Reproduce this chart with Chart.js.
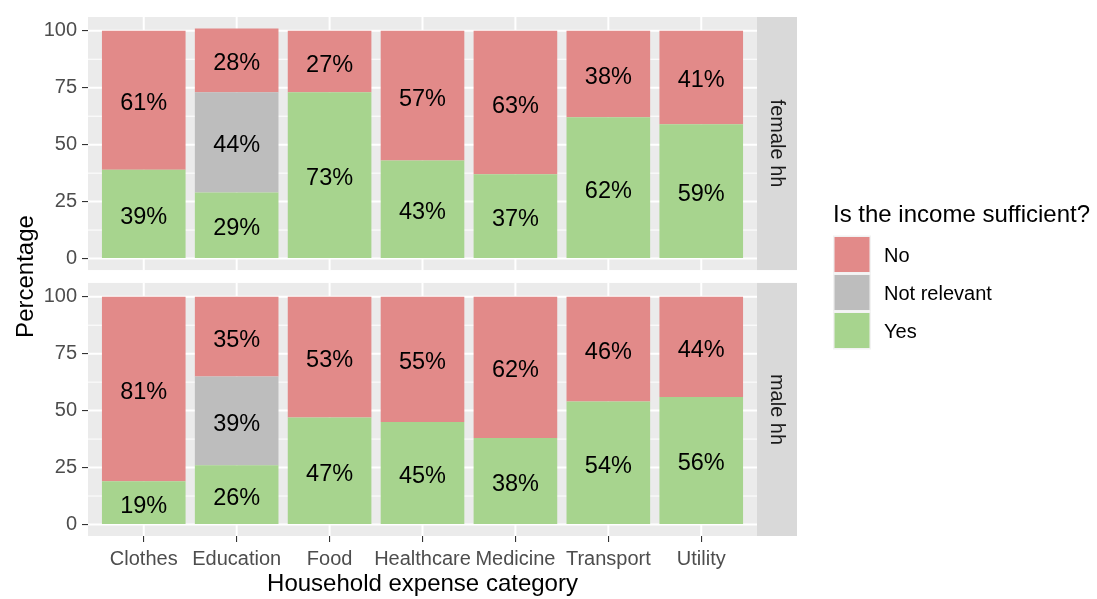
<!DOCTYPE html>
<html>
<head>
<meta charset="utf-8">
<script src="https://cdn.jsdelivr.net/npm/chart.js@4.4.1/dist/chart.umd.min.js"></script>
<style>
html,body{margin:0;padding:0;background:#fff;}
#wrap{position:relative;width:1097px;height:599px;}
</style>
</head>
<body>
<div id="wrap"><canvas id="c" width="1097" height="599"></canvas></div>
<script>
// ---- data ----
const categories = ['Clothes', 'Education', 'Food', 'Healthcare', 'Medicine', 'Transport', 'Utility'];
const groups = ['female hh', 'male hh'];
const responses = ['No', 'Not relevant', 'Yes'];
const femaleNo  = [61, 28, 27, 57, 63, 38, 41];
const femaleNR  = [null, 44, null, null, null, null, null];
const femaleYes = [39, 29, 73, 43, 37, 62, 59];
const maleNo    = [81, 35, 53, 55, 62, 46, 44];
const maleNR    = [null, 39, null, null, null, null, null];
const maleYes   = [19, 26, 47, 45, 38, 54, 56];
const yTicks = [0, 25, 50, 75, 100];
const yMinorTicks = [12.5, 37.5, 62.5, 87.5];
const yRange = [-5.05, 106.05];
const xRange = [-0.6, 6.6];
const legendTitle = 'Is the income sufficient?';
const xTitle = 'Household expense category';
const yTitle = 'Percentage';

// ---- styles ----
const colors = { 'No': '#E28A89', 'Not relevant': '#BDBDBD', 'Yes': '#A7D48E' };
const FONT = "'Liberation Sans', Arial, sans-serif";
const SMALL = 20;

const pts = arr => arr.map((v, i) => ({ x: i, y: v }));
const common = { borderWidth: 0, barPercentage: 0.9, categoryPercentage: 1.0 };

const datasets = [
  { label: 'Yes', data: pts(femaleYes), yAxisID: 'yf', backgroundColor: colors['Yes'], ...common },
  { label: 'Not relevant', data: pts(femaleNR), yAxisID: 'yf', backgroundColor: colors['Not relevant'], ...common },
  { label: 'No', data: pts(femaleNo), yAxisID: 'yf', backgroundColor: colors['No'], ...common },
  { label: 'Yes', data: pts(maleYes), yAxisID: 'ym', backgroundColor: colors['Yes'], ...common },
  { label: 'Not relevant', data: pts(maleNR), yAxisID: 'ym', backgroundColor: colors['Not relevant'], ...common },
  { label: 'No', data: pts(maleNo), yAxisID: 'ym', backgroundColor: colors['No'], ...common }
];

function line(ctx, x1, y1, x2, y2) {
  ctx.beginPath(); ctx.moveTo(x1, y1); ctx.lineTo(x2, y2); ctx.stroke();
}

const panelPlugin = {
  id: 'panels',
  beforeDraw(chart) {
    const ctx = chart.ctx, x = chart.scales.x;
    ['yf', 'ym'].forEach((id, k) => {
      const y = chart.scales[id];
      ctx.save();
      ctx.fillStyle = '#EBEBEB';
      ctx.fillRect(x.left, y.top, x.right - x.left, y.bottom - y.top);
      ctx.strokeStyle = '#FFFFFF';
      ctx.lineWidth = 1;
      yMinorTicks.forEach(v => { const p = y.getPixelForValue(v); line(ctx, x.left, p, x.right, p); });
      ctx.lineWidth = 2;
      yTicks.forEach(v => { const p = y.getPixelForValue(v); line(ctx, x.left, p, x.right, p); });
      categories.forEach((c, i) => { const p = x.getPixelForValue(i); line(ctx, p, y.top, p, y.bottom); });
      // strip
      ctx.fillStyle = '#D9D9D9';
      ctx.fillRect(x.right, y.top, 40, y.bottom - y.top);
      ctx.translate(x.right + 20, (y.top + y.bottom) / 2);
      ctx.rotate(Math.PI / 2);
      ctx.fillStyle = '#1A1A1A';
      ctx.font = SMALL + 'px ' + FONT;
      ctx.textAlign = 'center';
      ctx.textBaseline = 'middle';
      ctx.fillText(groups[k], 0, 0);
      ctx.restore();
    });
  },
  afterDatasetsDraw(chart) {
    const ctx = chart.ctx;
    ctx.save();
    ctx.fillStyle = '#000000';
    ctx.font = '23.5px ' + FONT;
    ctx.textAlign = 'center';
    ctx.textBaseline = 'middle';
    chart.data.datasets.forEach((ds, di) => {
      const meta = chart.getDatasetMeta(di);
      meta.data.forEach((el, i) => {
        const v = ds.data[i].y;
        if (v === null || v === undefined) return;
        const p = el.getProps(['x', 'y', 'base'], true);
        ctx.fillText(v + '%', p.x, (p.y + p.base) / 2 + 3.5);
      });
    });
    ctx.restore();
  },
  afterDraw(chart) {
    const ctx = chart.ctx;
    const yf = chart.scales.yf, ym = chart.scales.ym;
    ctx.save();
    // y title
    ctx.fillStyle = '#000000';
    ctx.font = '24px ' + FONT;
    ctx.textAlign = 'center';
    ctx.textBaseline = 'middle';
    ctx.translate(26, (Math.min(yf.top, ym.top) + Math.max(yf.bottom, ym.bottom)) / 2);
    ctx.rotate(-Math.PI / 2);
    ctx.fillText(yTitle, 0, 0);
    ctx.restore();
    // legend
    ctx.save();
    ctx.fillStyle = '#000000';
    ctx.font = '24px ' + FONT;
    ctx.textAlign = 'left';
    ctx.textBaseline = 'alphabetic';
    ctx.fillText(legendTitle, 833, 222);
    responses.forEach((r, i) => {
      const top = 235.5 + i * 38;
      ctx.fillStyle = '#F2F2F2';
      ctx.fillRect(833, top, 38, 38);
      ctx.fillStyle = colors[r];
      ctx.fillRect(834.5, top + 1.5, 35, 35);
      ctx.fillStyle = '#000000';
      ctx.font = SMALL + 'px ' + FONT;
      ctx.textBaseline = 'middle';
      ctx.fillText(r, 884, top + 20.5);
    });
    ctx.restore();
  }
};

const yAxis = (weight) => ({
  type: 'linear',
  position: 'left',
  stack: 'panels',
  stackWeight: weight,
  stacked: true,
  min: yRange[0],
  max: yRange[1],
  afterBuildTicks: s => { s.ticks = yTicks.map(v => ({ value: v })); },
  afterFit: s => { s.width = 88; },
  ticks: {
    callback: v => String(v),
    font: { size: SMALL, family: FONT },
    color: '#4D4D4D',
    padding: 5
  },
  grid: { drawOnChartArea: false, drawTicks: true, tickLength: 6, color: '#333333', lineWidth: 1.1 },
  border: { display: false }
});

new Chart(document.getElementById('c'), {
  type: 'bar',
  data: { datasets },
  options: {
    responsive: false,
    animation: false,
    layout: { padding: { left: 0, top: 13, right: 340, bottom: 0 } },
    plugins: { legend: { display: false }, tooltip: { enabled: false } },
    scales: {
      x: {
        type: 'linear',
        position: 'bottom',
        stacked: true,
        offset: false,
        min: xRange[0],
        max: xRange[1],
        afterBuildTicks: s => { s.ticks = categories.map((c, i) => ({ value: i })); },
        afterFit: s => { s.height = 63; },
        ticks: {
          callback: v => categories[v] !== undefined ? categories[v] : '',
          autoSkip: false, maxRotation: 0, minRotation: 0,
          font: { size: SMALL, family: FONT },
          color: '#4D4D4D',
          padding: 5
        },
        grid: { offset: false, drawOnChartArea: false, drawTicks: true, tickLength: 6, color: '#333333', lineWidth: 1.1 },
        border: { display: false },
        title: { display: true, text: xTitle, font: { size: 24, family: FONT }, color: '#000000', padding: 0 }
      },
      ym: yAxis(255),
      ysp: { type: 'linear', position: 'left', stack: 'panels', stackWeight: 13, display: false, afterFit: s => { s.width = 0; } },
      yf: yAxis(255)
    }
  },
  plugins: [panelPlugin]
});
</script>
</body>
</html>
